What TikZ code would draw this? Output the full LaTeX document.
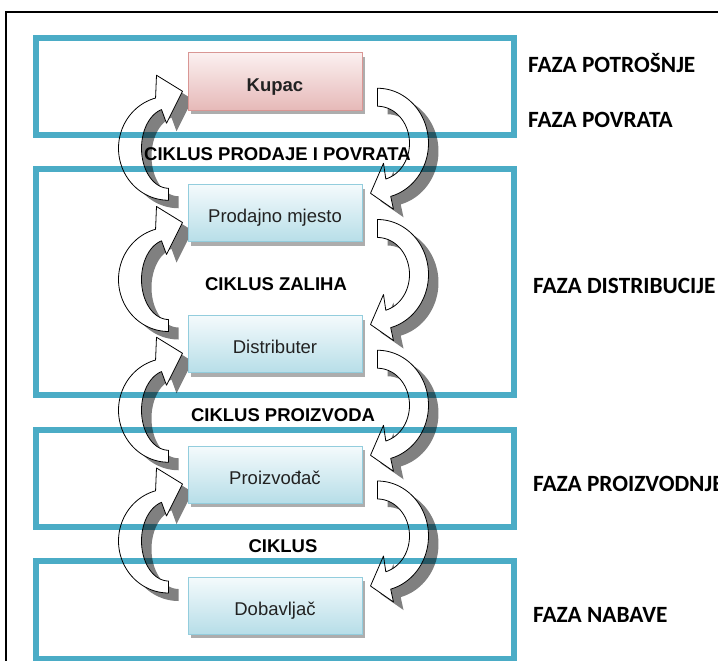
\documentclass[tikz,border=0pt]{standalone}
\usepackage{fontspec}
\setmainfont{Liberation Sans}
\newfontfamily\calibfont{Carlito}
\usetikzlibrary{calc,shadows}
\definecolor{teal5}{HTML}{4BACC6}
\definecolor{pinkbd}{HTML}{D99694}
\definecolor{pinktop}{HTML}{FBF0F0}
\definecolor{pinkbot}{HTML}{E6B9B8}
\definecolor{bluebd}{HTML}{93CDDD}
\definecolor{bluetop}{HTML}{F4FAFC}
\definecolor{bluebot}{HTML}{B7DEE8}
\definecolor{txtdark}{HTML}{222222}
\pgfdeclarelayer{arrowlayer}
\pgfdeclarelayer{framelayer}
\pgfsetlayers{arrowlayer,framelayer,main}
\tikzset{
  larrow/.pic={
    \path[pic actions] (0,52)
      -- plot[domain=90:255,samples=60] ({50*cos(\x)},{52*sin(\x)})
      -- (-12,-73) -- (14,-57) -- (-2,-25)
      -- plot[domain=255:90,samples=60] ({27*cos(\x)},{40*sin(\x)})
      -- cycle;
  },
  rarrow/.pic={
    \path[pic actions] (0,-55)
      -- plot[domain=270:435,samples=60] ({51*cos(\x)},{55*sin(\x)})
      -- (16,66) -- (-7,50) -- (6,20)
      -- plot[domain=435:270,samples=60] ({32*cos(\x)},{37*sin(\x)})
      -- cycle;
  },
}
\begin{document}
\begin{tikzpicture}[x=1pt,y=-1pt,
  actor/.style={minimum width=174pt, minimum height=57pt, inner sep=0pt,
    line width=1pt, text height=19.3pt, text depth=0pt,
    font=\fontsize{18.5}{22}\selectfont, text=txtdark,
    drop shadow={shadow xshift=3pt, shadow yshift=-4pt, fill=black!40, opacity=0.8}},
  bluebox/.style={actor, draw=bluebd, top color=bluetop, bottom color=bluebot},
  pinkbox/.style={actor, draw=pinkbd, top color=pinktop, bottom color=pinkbot,
    font=\fontsize{18.5}{22}\selectfont\bfseries},
  phase/.style={draw=teal5, line width=6pt, blend mode=multiply},
  cyc/.style={font=\fontsize{18.5}{22}\selectfont\bfseries, text=black,
    inner sep=0pt, text height=13.3pt, text depth=0pt},
  phlabel/.style={font=\calibfont\fontsize{23.3}{27}\selectfont\bfseries, anchor=west,
    inner sep=0pt, text height=15pt, text depth=0pt},
  barrow/.style={fill=white, draw=black, line width=0.8pt, line join=round},
  bshadow/.style={fill=black!50, draw=none},
]
\useasboundingbox (0,0) rectangle (718,661);
\clip (0,0) rectangle (718,661);
\draw[line width=1.8pt] (6,12) rectangle (760,700);

% actors
\node[pinkbox] (kupac) at (275,81.5) {Kupac};
\node[bluebox] (prodajno) at (275,213) {Prodajno mjesto};
\node[bluebox] (distr) at (275,344) {Distributer};
\node[bluebox] (proizv) at (275,474.5) {Proizvođač};
\node[bluebox] (dobav) at (275,605.5) {Dobavljač};

% circular arrows
\begin{pgfonlayer}{arrowlayer}
\foreach \a/\b in {kupac/prodajno, prodajno/distr, distr/proizv, proizv/dobav} {
  \pic[bshadow] at ($(\a.west)!0.5!(\b.west)+(-9,9)$) {larrow};
  \pic[bshadow] at ($(\a.east)!0.5!(\b.east)+(25,4)$) {rarrow};
}
\foreach \a/\b in {kupac/prodajno, prodajno/distr, distr/proizv, proizv/dobav} {
  \pic[barrow] at ($(\a.west)!0.5!(\b.west)+(-19,1)$) {larrow};
  \pic[barrow] at ($(\a.east)!0.5!(\b.east)+(15,-4)$) {rarrow};
}
\end{pgfonlayer}

% phase frames
\begin{pgfonlayer}{framelayer}
\draw[phase] (35.5,38.5) rectangle (513.5,135);
\draw[phase] (35.5,168.5) rectangle (513.5,395);
\draw[phase] (35.5,430) rectangle (513.5,526.5);
\draw[phase] (35.5,561) rectangle (513.5,659);
\end{pgfonlayer}

% cycle labels
\node[cyc] (c1) at (277.5,153.5) {CIKLUS PRODAJE I POVRATA};
\node[cyc] (c2) at (276,284) {CIKLUS ZALIHA};
\node[cyc] (c3) at (283,415) {CIKLUS PROIZVODA};
\node[cyc] (c4) at (283,546) {CIKLUS};

% phase labels
\node[phlabel] (p1) at (528,65) {FAZA POTROŠNJE};
\node[phlabel] (p2) at (528,120) {FAZA POVRATA};
\node[phlabel] (p3) at (533,285.5) {FAZA DISTRIBUCIJE};
\node[phlabel] (p4) at (533,484) {FAZA PROIZVODNJE};
\node[phlabel] (p5) at (533,615) {FAZA NABAVE};
\end{tikzpicture}
\end{document}
